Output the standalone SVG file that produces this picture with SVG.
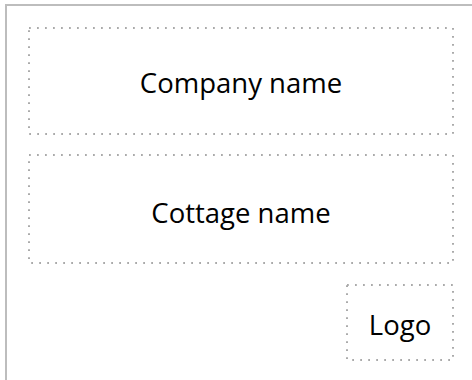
<svg xmlns="http://www.w3.org/2000/svg" width="472" height="380" viewBox="0 0 472 380">
<style>
.frame{fill:none;stroke:#bdbdbd;stroke-width:2}
.box{fill:none;stroke:#aaaaaa;stroke-width:2;stroke-dasharray:1.8 6.2}
.lbl{font-family:"Open Sans","Noto Sans",sans-serif;font-size:27.5px;fill:#000;text-anchor:middle}
</style>
<rect width="472" height="380" fill="#fff"/>
<path class="frame" d="M6,390 V5 H480"/>
<g id="company">
<rect class="box" x="29" y="28" width="424" height="106"/>
<text class="lbl" x="241" y="93">Company name</text>
</g>
<g id="cottage">
<rect class="box" x="29" y="155" width="424" height="108"/>
<text class="lbl" x="241" y="223">Cottage name</text>
</g>
<g id="logo">
<rect class="box" x="347" y="285" width="106" height="75"/>
<text class="lbl" x="400" y="335">Logo</text>
</g>
<g id="connectors"/>
</svg>
